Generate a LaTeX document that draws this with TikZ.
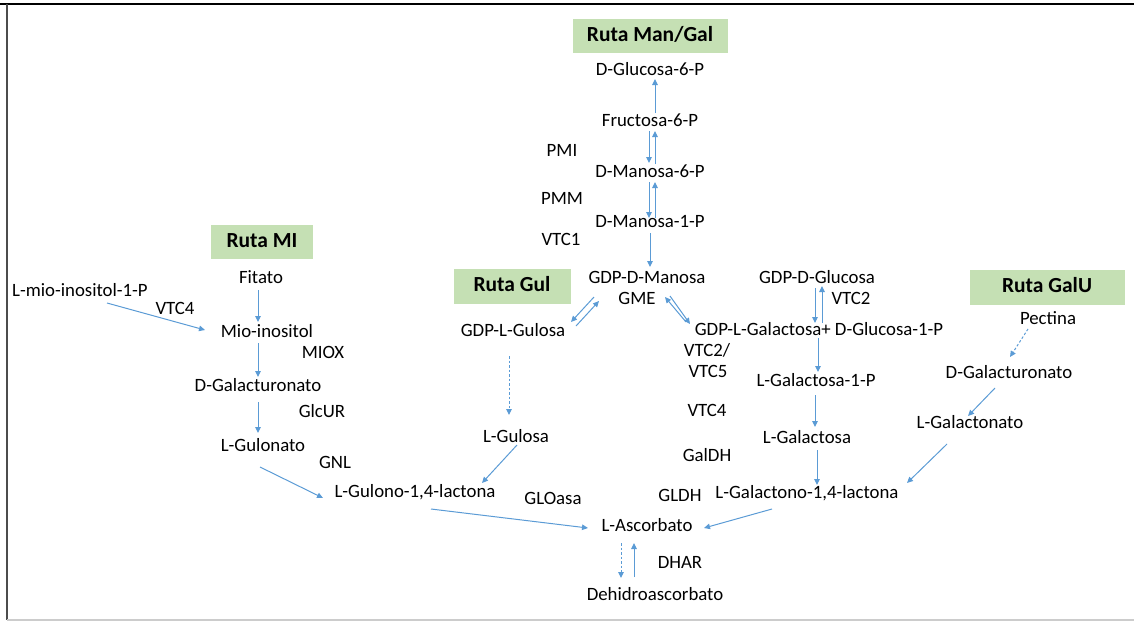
\documentclass[tikz,border=0pt]{standalone}
\usepackage{fontspec}
\setmainfont{Carlito}
\usetikzlibrary{calc,arrows.meta}
\definecolor{arrowblue}{RGB}{91,155,213}
\definecolor{dashblue}{RGB}{150,190,226}
\definecolor{titlegreen}{RGB}{197,224,180}
\tikzset{
  txt/.style={font=\fontsize{18.8}{22}\selectfont, text height=12pt, text depth=3.5pt, inner sep=0pt},
  ttl/.style={fill=titlegreen, font=\fontsize{21.5}{24}\bfseries\selectfont, text height=14pt, text depth=3pt, inner sep=0pt},
  arr/.style={draw=arrowblue, line width=1pt, -{Triangle[length=6pt,width=5.5pt]}},
  darr/.style={draw=dashblue, line width=1pt, dash pattern=on 2.5pt off 2pt, -{Triangle[length=6pt,width=5.5pt]}, arrowblue}
}
\begin{document}
\begin{tikzpicture}[x=1pt,y=-1pt]
\useasboundingbox (0,0) rectangle (1134,622);
% frame
\draw[black, line width=1.6pt] (0,4) -- (1134,4);
\draw[black!70, line width=1.4pt] (7,4) -- (7,620);
\draw[black!20, line width=1.4pt] (7,620) -- (1134,620);

% titles
\node[ttl, minimum width=155pt, minimum height=34pt] (tMG) at (650,36) {Ruta Man/Gal};
\node[ttl, minimum width=102pt, minimum height=34pt] (tMI) at (262,242) {Ruta MI};
\node[ttl, minimum width=117pt, minimum height=35pt] (tGul) at (512,286) {Ruta Gul};
\node[ttl, minimum width=155pt, minimum height=35pt] (tGalU) at (1047,287) {Ruta GalU};

% Man/Gal pathway
\node[txt] (g6p) at (650,71) {D-Glucosa-6-P};
\node[txt] (f6p) at (650,122) {Fructosa-6-P};
\node[txt] (m6p) at (650,173) {D-Manosa-6-P};
\node[txt] (m1p) at (650,223) {D-Manosa-1-P};
\node[txt] (gdpman) at (647,279) {GDP-D-Manosa};
\node[txt] (gme) at (637,300) {GME};
\node[txt] (pmi) at (562,152) {PMI};
\node[txt] (pmm) at (562,200) {PMM};
\node[txt] (vtc1) at (561,241) {VTC1};

% MI pathway
\node[txt] (fitato) at (261,279) {Fitato};
\node[txt] (lmio) at (80,292) {L-mio-inositol-1-P};
\node[txt] (vtc4a) at (175,310) {VTC4};
\node[txt] (mio) at (267,333) {Mio-inositol};
\node[txt] (miox) at (323,354) {MIOX};
\node[txt] (dgalA) at (258,387) {D-Galacturonato};
\node[txt] (glcur) at (322,413) {GlcUR};
\node[txt] (lgulonato) at (263,447) {L-Gulonato};
\node[txt] (gnl) at (335,464) {GNL};
\node[txt] (lgulono) at (415,493) {L-Gulono-1,4-lactona};

% Gul pathway
\node[txt] (gdpgul) at (513,332) {GDP-L-Gulosa};
\node[txt] (lgulosa) at (516,438) {L-Gulosa};
\node[txt] (gloasa) at (553,500) {GLOasa};

% Gal enzymes
\node[txt] (vtc2a) at (707,352) {VTC2/};
\node[txt] (vtc5) at (708,373) {VTC5};
\node[txt] (vtc4b) at (707,412) {VTC4};
\node[txt] (galdh) at (707,457) {GalDH};
\node[txt] (gldh) at (680,497) {GLDH};

\node[txt] (gdpglc) at (817,279) {GDP-D-Glucosa};
\node[txt] (vtc2b) at (851,300) {VTC2};
\node[txt] (gdpgal) at (819,331) {GDP-L-Galactosa+ D-Glucosa-1-P};
\node[txt] (lgal1p) at (816,382) {L-Galactosa-1-P};
\node[txt] (lgal) at (807,439) {L-Galactosa};
\node[txt] (lgalono) at (807,494) {L-Galactono-1,4-lactona};

% GalU pathway
\node[txt] (pectina) at (1048,320) {Pectina};
\node[txt] (dgalB) at (1009,374) {D-Galacturonato};
\node[txt] (lgalonato) at (970,424) {L-Galactonato};

% ascorbate
\node[txt] (lasc) at (647,527) {L-Ascorbato};
\node[txt] (dhar) at (680,564) {DHAR};
\node[txt] (dha) at (655,596) {Dehidroascorbato};

% connectors Man/Gal
\draw[arr] ($(f6p)+(5,-9)$) -- ($(g6p)+(5,8)$);
\draw[arr] ($(f6p)+(-1,9)$) -- ($(m6p)+(-1,-10)$);
\draw[arr] ($(m6p)+(5,-9)$) -- ($(f6p)+(5,9)$);
\draw[arr] ($(m6p)+(-1,9)$) -- ($(m1p)+(-1,-5)$);
\draw[arr] ($(m1p)+(5,-5)$) -- ($(m6p)+(5,9)$);
\draw[arr] ($(m1p)+(0,10)$) -- ($(gdpman)+(3,-12)$);
\draw[arr] ($(gdpgul)+(63,-6)$) -- ($(gdpman)+(-48,22)$);
\draw[arr] ($(gdpman)+(-53,18)$) -- ($(gdpgul)+(58,-10)$);
\draw[arr] ($(gdpgal)+(-133,-9)$) -- ($(gdpman)+(18,18)$);
\draw[arr] ($(gdpman)+(23,17)$) -- ($(gdpgal)+(-129,-7)$);

% Gul
\draw[darr] ($(gdpgul)+(-4,24)$) -- ($(lgulosa)+(-7,-23)$);
\draw[arr] ($(lgulosa)+(1,7)$) -- ($(lgulono)+(67,-10)$);

% MI
\draw[arr] ($(lmio)+(27,11)$) -- ($(mio)+(-62,-3)$);
\draw[arr] ($(fitato)+(-3,11)$) -- ($(mio)+(-9,-11)$);
\draw[arr] ($(mio)+(-9,10)$) -- ($(dgalA)+(0,-10)$);
\draw[arr] ($(dgalA)+(0,15)$) -- ($(lgulonato)+(-5,-14)$);
\draw[arr] ($(lgulonato)+(-3,20)$) -- ($(lgulono)+(-92,5)$);
\draw[arr] ($(lgulono)+(16,16)$) -- ($(lasc)+(-59,1)$);

% Gal
\draw[arr] ($(gdpglc)+(-2,9)$) -- ($(gdpgal)+(-4,-8)$);
\draw[arr] ($(gdpgal)+(3,-8)$) -- ($(gdpglc)+(5,7)$);
\draw[arr] ($(gdpgal)+(-1,7)$) -- ($(lgal1p)+(2,-10)$);
\draw[arr] ($(lgal1p)+(-1,13)$) -- ($(lgal)+(8,-12)$);
\draw[arr] ($(lgal)+(10,11)$) -- ($(lgalono)+(10,-9)$);
\draw[arr] ($(lgalono)+(-35,15)$) -- ($(lasc)+(57,1)$);

% GalU
\draw[darr] ($(pectina)+(-20,9)$) -- ($(dgalB)+(1,-17)$);
\draw[arr] ($(dgalB)+(-14,14)$) -- ($(lgalonato)+(-2,-8)$);
\draw[arr] ($(lgalonato)+(-23,20)$) -- ($(lgalono)+(100,-11)$);

% ascorbate
\draw[darr] ($(lasc)+(-26,16)$) -- ($(dha)+(-34,-18)$);
\draw[arr] ($(dha)+(-21,-19)$) -- ($(lasc)+(-13,16)$);
\end{tikzpicture}
\end{document}
